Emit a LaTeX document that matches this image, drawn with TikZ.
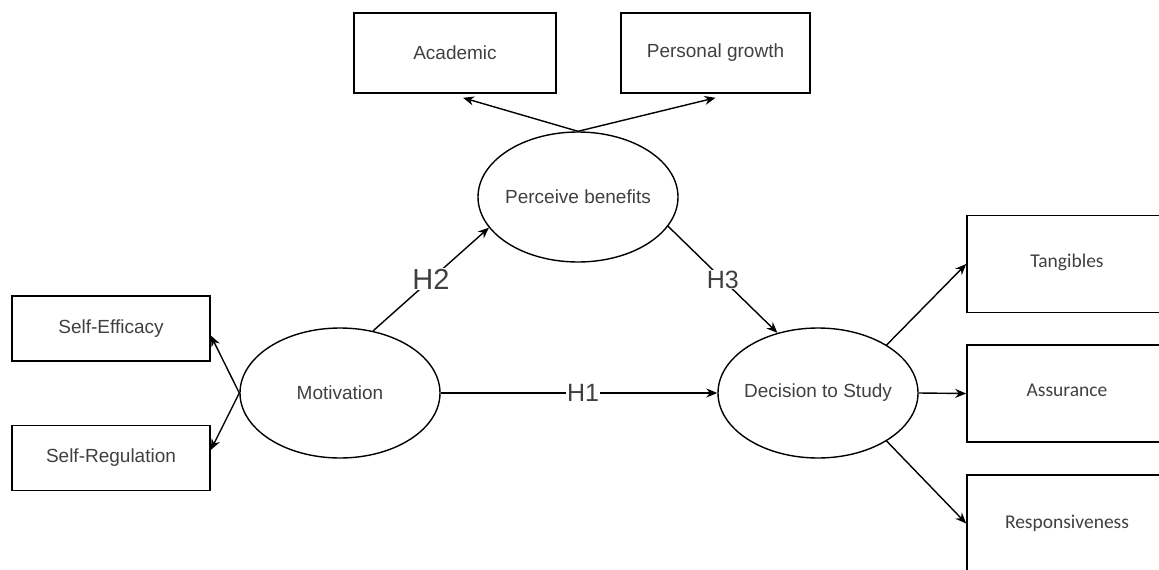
\documentclass[tikz,border=0pt]{standalone}
\usepackage{fontspec}
\setmainfont{Liberation Sans}
\newfontfamily\calibrifont{Carlito}
\usetikzlibrary{arrows.meta, shapes.geometric}

\begin{document}
\begin{tikzpicture}[x=1pt, y=-1pt, >={Stealth[length=11pt, width=9pt]},
    box/.style={draw, line width=1.6pt, inner sep=0pt, text=black!75,
        font=\fontsize{19}{22}\selectfont},
    rbox/.style={box, minimum width=200pt, minimum height=97pt,
        font=\calibrifont\fontsize{19.5}{22}\selectfont},
    oval/.style={draw, ellipse, line width=1.4pt, minimum width=200pt,
        minimum height=130pt, inner sep=-15pt, text=black!75,
        font=\fontsize{19}{22}\selectfont},
    link/.style={->, line width=1.4pt},
    hlab/.style={fill=white, inner sep=1pt, text=black!75,
        font=\fontsize{25}{28}\selectfont}]
    \clip (0,0) rectangle (1159,570);
    % constructs
    \node[oval] (mot) at (340,393) {Motivation};
    \node[oval] (pb) at (578,197) {Perceive benefits};
    \node[oval] (dec) at (818,393) {Decision to Study};
    % indicators
    \node[box, minimum width=198pt, minimum height=65pt] (se) at (111,328.5) {Self-Efficacy};
    \node[box, minimum width=198pt, minimum height=65pt] (sr) at (111,458) {Self-Regulation};
    \node[box, minimum width=202pt, minimum height=80pt] (aca) at (455,53) {Academic};
    \node[box, minimum width=189pt, minimum height=80pt] (pg) at (715.5,53) {Personal growth};
    \node[rbox] (tang) at (1067,264) {\raisebox{7pt}{Tangibles}};
    \node[rbox] (asu) at (1067,393.5) {\raisebox{6pt}{Assurance}};
    \node[rbox] (resp) at (1067,523.5) {Responsiveness};
    % loadings
    \draw[link] (mot.west) -- ([yshift=-7pt]se.east);
    \draw[link] (mot.west) -- ([yshift=8pt]sr.east);
    \draw[link] (pb.north) -- ([xshift=8pt, yshift=-4pt]aca.south);
    \draw[link] (pb.north) -- ([yshift=-4pt]pg.south);
    \draw[link] (dec.35) -- (tang.west);
    \draw[link] (dec.east) -- (asu.west);
    \draw[link] (dec.-35) -- (resp.west);
    % hypotheses
    \draw[link] (mot.east) -- (dec.west) node[hlab, midway, xshift=4pt] {H1};
    \draw[link] (mot.62) -- (pb.199) node[hlab, midway, font=\fontsize{29}{32}\selectfont] {H2};
    \draw[link] (pb.-18) -- (dec.124) node[hlab, midway] {H3};
\end{tikzpicture}
\end{document}
